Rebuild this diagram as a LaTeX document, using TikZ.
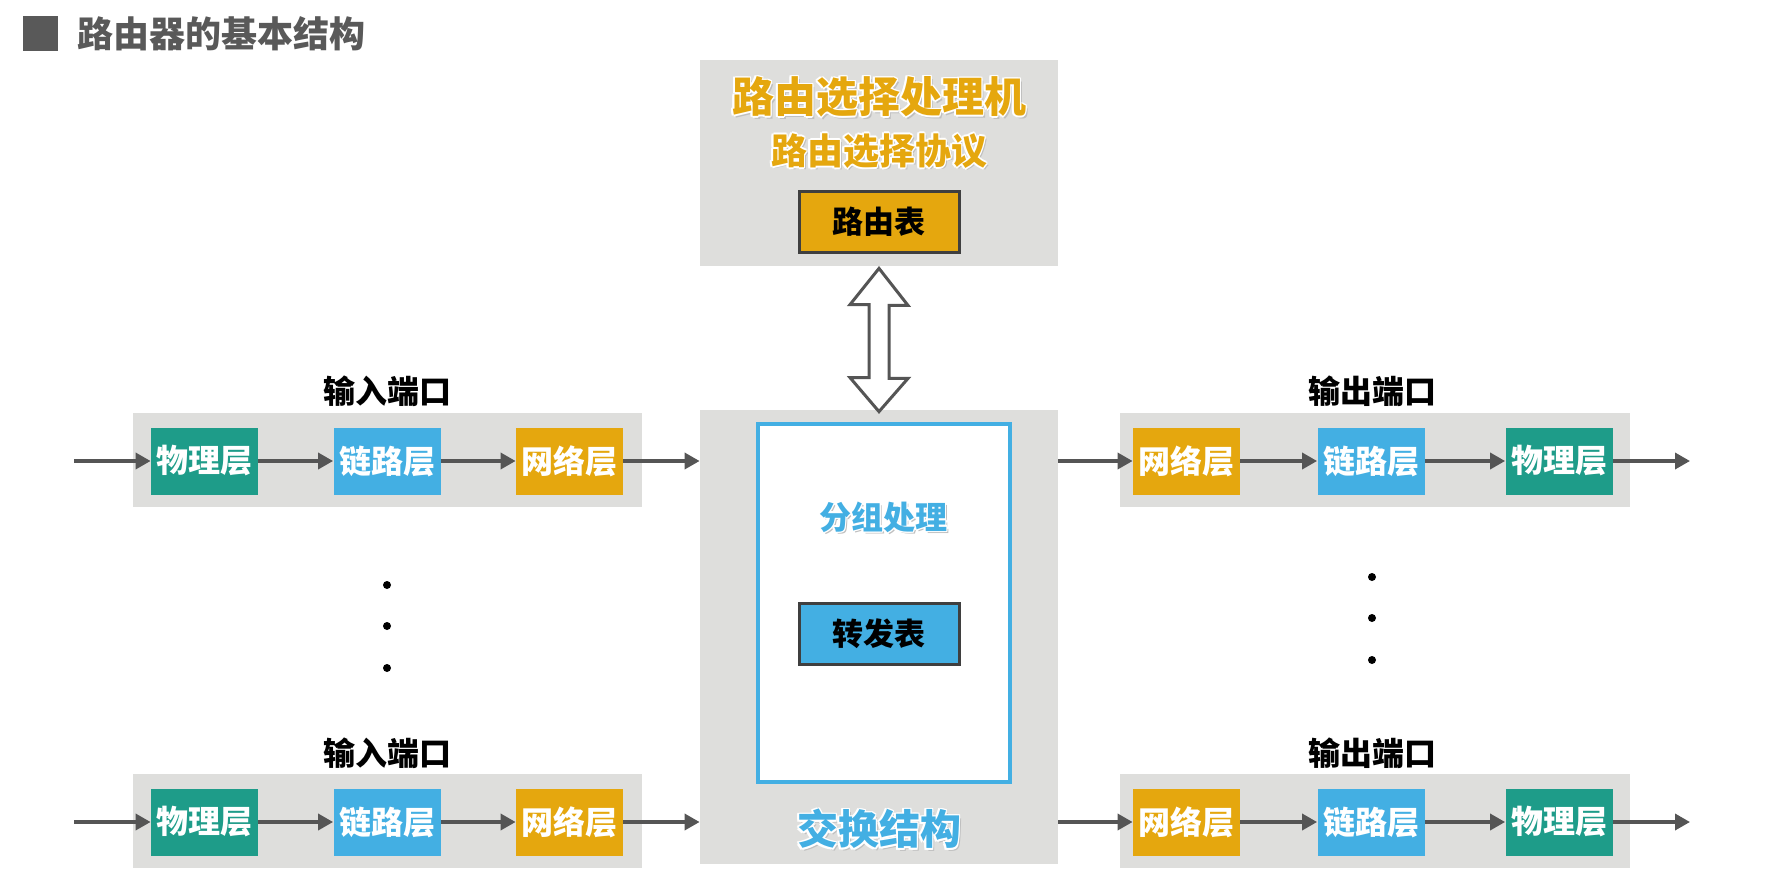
\documentclass[tikz,border=0pt]{standalone}
\usepackage{fontspec}
\newfontfamily\cjk{Noto Sans CJK SC}
\usetikzlibrary{arrows.meta,calc}
\definecolor{panelgray}{HTML}{DEDEDC}
\definecolor{layteal}{HTML}{1E9C89}
\definecolor{layblue}{HTML}{43AFE3}
\definecolor{layorange}{HTML}{E5A70E}
\definecolor{arrowgray}{HTML}{555555}
\definecolor{titlegray}{HTML}{595959}
\definecolor{tabborder}{HTML}{3F3F3F}
\newcommand\cjkfont[1]{\cjk\bfseries\fontsize{#1}{#1}\selectfont}
% glowing label: position, name, size, colour, text
\newcommand\glowlabel[5]{%
  \node[text=black!25,font=\cjkfont{#3},inner sep=0] at ([shift={(2.5,2.5)}]#1) {#5};
  \foreach \dx/\dy in {1.6/0,-1.6/0,0/1.6,0/-1.6,1.2/1.2,-1.2/1.2,1.2/-1.2,-1.2/-1.2}{%
    \node[text=white,font=\cjkfont{#3},inner sep=0] at ([shift={(\dx,\dy)}]#1) {#5};}
  \node[text=#4,font=\cjkfont{#3},inner sep=0] (#2) at (#1) {#5};}
\tikzset{
  panel/.style={fill=panelgray,draw=none,inner sep=0},
  band/.style={fill=panelgray,draw=none,inner sep=0,minimum width=254.5pt,minimum height=47pt},
  layer/.style={draw=none,inner sep=0,minimum width=53.5pt,minimum height=33.5pt,text=white,font=\cjkfont{16pt}},
  phys/.style={layer,fill=layteal},
  link/.style={layer,fill=layblue},
  netw/.style={layer,fill=layorange},
  table/.style={draw=tabborder,line width=1.5pt,inner sep=0,minimum width=80pt,minimum height=30.5pt,text=black,font=\cjkfont{15.5pt}},
  portlabel/.style={inner sep=0,text=black,font=\cjkfont{16pt}},
  flow/.style={draw=arrowgray,line width=1.75pt,-{Triangle[length=7.5pt,width=8pt]}},
  dotmark/.style={circle,fill=black,inner sep=0,minimum size=4pt}
}
\begin{document}
\begin{tikzpicture}[x=0.5pt,y=-0.5pt]
\useasboundingbox (0,0) rectangle (1779,884);
\fill[white] (0,0) rectangle (1779,884);

% title
\fill[titlegray] (23,16) rectangle (58,51);
\node[anchor=west,inner sep=0,text=titlegray,font=\cjkfont{18pt}] (title) at (77,34) {路由器的基本结构};

% routing processor
\node[panel,minimum width=179pt,minimum height=103pt] (proc) at (879,163) {};
\glowlabel{879,97}{proctitle}{21pt}{layorange}{路由选择处理机}
\glowlabel{879,151}{proto}{18pt}{layorange}{路由选择协议}
\node[table,fill=layorange] (rtab) at (879,221.5) {路由表};

% switch fabric
\node[panel,minimum width=179pt,minimum height=227pt] (sw) at (879,637) {};
\node[fill=white,draw=layblue,line width=2pt,inner sep=0,minimum width=126pt,minimum height=179pt] (pkt) at (884,603) {};
\glowlabel{883,517}{pkttitle}{16pt}{layblue}{分组处理}
\node[table,fill=layblue] (ftab) at (879,634) {转发表};
\glowlabel{879,829}{swtitle}{20.5pt}{layblue}{交换结构}

% double arrow between processor and fabric
\coordinate (ta) at ($(proc.south)+(0,2)$);
\coordinate (tb) at ($(sw.north)+(0,2)$);
\draw[arrowgray,fill=white,line width=1.5pt,line join=miter]
  (ta) -- ++(29,37) -- ++(-19,0) -- ++(0,73) -- ++(19,0) -- (tb)
  -- ++(-29,-34) -- ++(19,0) -- ++(0,-73) -- ++(-19,0) -- cycle;

% input ports
\foreach \r/\y/\ly in {a/461/391,b/822/753}{
  \node[band] (inband\r) at (387.5,\y-1.5) {};
  \node[portlabel] (inlab\r) at (387,\ly) {输入端口};
  \node[phys] (inphy\r) at (204.5,\y) {物理层};
  \node[link] (inlnk\r) at (387,\y) {链路层};
  \node[netw] (innet\r) at (569.5,\y) {网络层};
  \coordinate (insrc\r) at (74,\y);
  \draw[flow] (insrc\r) -- (inphy\r.west);
  \draw[flow] (inphy\r.east) -- (inlnk\r.west);
  \draw[flow] (inlnk\r.east) -- (innet\r.west);
  \draw[flow] (innet\r.east) -- (innet\r.east -| sw.west);
}

% output ports
\foreach \r/\y/\ly in {a/461/391,b/822/753}{
  \node[band,minimum width=255pt] (outband\r) at (1375,\y-1.5) {};
  \node[portlabel] (outlab\r) at (1372,\ly) {输出端口};
  \node[netw] (outnet\r) at (1186.5,\y) {网络层};
  \node[link] (outlnk\r) at (1371,\y) {链路层};
  \node[phys] (outphy\r) at (1559,\y) {物理层};
  \coordinate (outdst\r) at (1690,\y);
  \draw[flow] (outnet\r.west -| sw.east) -- (outnet\r.west);
  \draw[flow] (outnet\r.east) -- (outlnk\r.west);
  \draw[flow] (outlnk\r.east) -- (outphy\r.west);
  \draw[flow] (outphy\r.east) -- (outdst\r);
}

% ellipsis dots
\node[dotmark] (ld1) at (387,585) {};
\node[dotmark] (ld2) at (387,626) {};
\node[dotmark] (ld3) at (387,668) {};
\node[dotmark] (rd1) at (1372,577) {};
\node[dotmark] (rd2) at (1372,618) {};
\node[dotmark] (rd3) at (1372,660) {};
\end{tikzpicture}
\end{document}
